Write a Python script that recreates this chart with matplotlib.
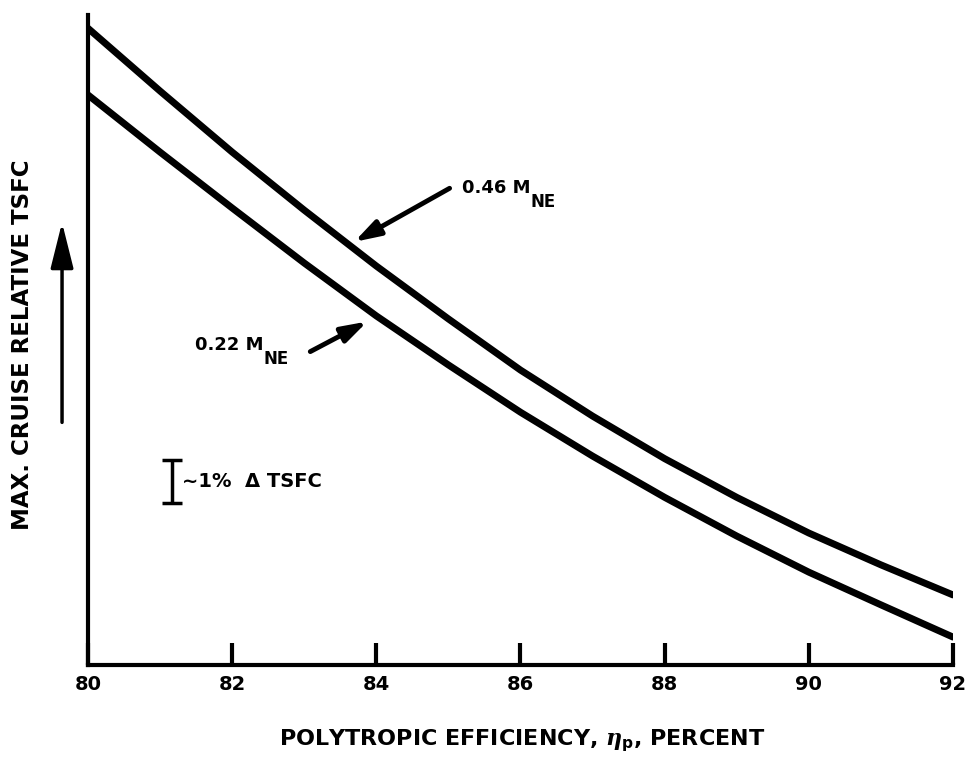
import numpy as np
import matplotlib
matplotlib.use("Agg")
import matplotlib.pyplot as plt

plt.rcParams["font.family"] = ["DejaVu Sans"]
plt.rcParams["font.weight"] = "bold"
plt.rcParams["mathtext.fontset"] = "custom"
plt.rcParams["mathtext.rm"] = "DejaVu Sans:bold"
plt.rcParams["mathtext.it"] = "DejaVu Serif:italic"

# polytropic efficiency, percent
eff = [80, 81, 82, 83, 84, 85, 86, 87, 88, 89, 90, 91, 92]
# relative TSFC, percent above an arbitrary base
tsfc_046 = [14.81, 13.35, 11.93, 10.58, 9.28, 8.05, 6.86, 5.79, 4.80, 3.90, 3.07, 2.33, 1.63]
tsfc_022 = [13.26, 11.93, 10.63, 9.35, 8.12, 6.98, 5.88, 4.86, 3.90, 3.00, 2.16, 1.40, 0.65]
xticks = [80, 82, 84, 86, 88, 90, 92]

fig = plt.figure(figsize=(9.68, 7.63), dpi=100)
ax = fig.add_axes([0.0909, 0.1284, 0.8936, 0.852])

ax.plot(eff, tsfc_046, color="black", lw=5, solid_capstyle="round", solid_joinstyle="round")
ax.plot(eff, tsfc_022, color="black", lw=5, solid_capstyle="round", solid_joinstyle="round")

ax.set_xlim(80, 92)
ax.set_ylim(0, 15.12)
ax.spines["top"].set_visible(False)
ax.spines["right"].set_visible(False)
ax.spines["left"].set_linewidth(3)
ax.spines["bottom"].set_linewidth(3)
ax.set_yticks([])
ax.set_xticks(xticks)
ax.set_xticklabels([str(t) for t in xticks], fontsize=14, fontweight="bold")
ax.tick_params(axis="x", direction="in", length=16, width=3, pad=7)

# curve labels with big, low subscripts
def mach_label(x, y, text):
    t = ax.text(x, y, text, fontsize=13, fontweight="bold", va="baseline")
    ax.annotate("NE", xy=(1, 0), xycoords=t, xytext=(0, -7), textcoords="offset points",
                fontsize=12, fontweight="bold", va="baseline")

mach_label(85.19, 10.98, "0.46 M")
ax.annotate("", xy=(83.66, 9.81), xytext=(85.05, 11.12),
            arrowprops=dict(arrowstyle="-|>,head_length=0.7,head_width=0.22", lw=3.5,
                            color="black", mutation_scale=22))
mach_label(81.48, 7.33, "0.22 M")
ax.annotate("", xy=(83.91, 8.02), xytext=(83.05, 7.26),
            arrowprops=dict(arrowstyle="-|>,head_length=0.7,head_width=0.22", lw=3.5,
                            color="black", mutation_scale=22))

# 1% scale bar
ax.errorbar([81.17], [4.27], yerr=[0.5], color="black", elinewidth=2.5, capsize=7, capthick=2.5)
ax.text(81.3, 4.27, "\u223c1%  \u0394 TSFC", fontsize=14, fontweight="bold", va="center")

# upward arrow beside the y axis
ax.annotate("", xy=(-0.03, 0.685), xytext=(-0.03, 0.369), xycoords="axes fraction",
            textcoords="axes fraction", annotation_clip=False,
            arrowprops=dict(arrowstyle="-|>,head_length=1.0,head_width=0.25", lw=2.5,
                            color="black", mutation_scale=28))

fig.text(0.023, 0.548, "MAX. CRUISE RELATIVE TSFC", rotation=90, fontsize=16.5,
         fontweight="bold", ha="center", va="center")
fig.text(0.539, 0.030, r"POLYTROPIC EFFICIENCY, $\eta_{\rm p}$, PERCENT", fontsize=16,
         fontweight="bold", ha="center", va="center")

fig.savefig("out.png", dpi=100)
